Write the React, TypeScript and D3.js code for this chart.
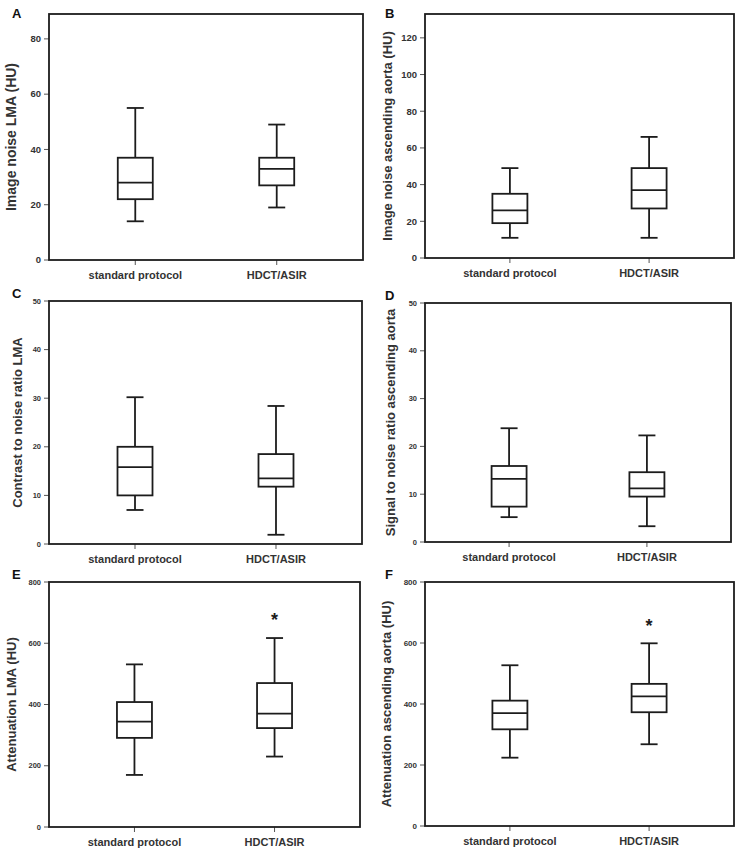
import React from 'react';
import * as d3 from 'd3';

const groups = ['standard protocol', 'HDCT/ASIR'];

// five-number summaries per group: [min, q1, median, q3, max]
const noiseLMA = [[14, 22, 28, 37, 55], [19, 27, 33, 37, 49]];
const noiseAorta = [[11, 19, 26, 35, 49], [11, 27, 37, 49, 66]];
const cnrLMA = [[7, 10, 15.8, 20, 30.2], [1.9, 11.8, 13.5, 18.5, 28.4]];
const snrAorta = [[5.2, 7.4, 13.2, 15.9, 23.8], [3.3, 9.5, 11.2, 14.6, 22.3]];
const attenLMA = [[170, 291, 344, 408, 531], [230, 323, 370, 470, 617]];
const attenAorta = [[224, 317, 370, 411, 527], [268, 373, 425, 466, 599]];

const ticksNoiseLMA = [0, 20, 40, 60, 80];
const ticksNoiseAorta = [0, 20, 40, 60, 80, 100, 120];
const ticksRatio = [0, 10, 20, 30, 40, 50];
const ticksAtten = [0, 200, 400, 600, 800];

// significance marker height (value units) above the HDCT/ASIR box
const starAttenLMA = 686;
const starAttenAorta = 665;

interface PanelSpec {
  letter: string;
  title: string;
  stats: number[][];
  yMax: number;
  ticks: number[];
  star?: number;
}

const panels: PanelSpec[] = [
  { letter: 'A', title: 'Image noise LMA (HU)', stats: noiseLMA, yMax: 89, ticks: ticksNoiseLMA },
  { letter: 'B', title: 'Image noise ascending aorta (HU)', stats: noiseAorta, yMax: 133, ticks: ticksNoiseAorta },
  { letter: 'C', title: 'Contrast to noise ratio LMA', stats: cnrLMA, yMax: 50, ticks: ticksRatio },
  { letter: 'D', title: 'Signal to noise ratio ascending aorta', stats: snrAorta, yMax: 50, ticks: ticksRatio },
  { letter: 'E', title: 'Attenuation LMA (HU)', stats: attenLMA, yMax: 800, ticks: ticksAtten, star: starAttenLMA },
  { letter: 'F', title: 'Attenuation ascending aorta (HU)', stats: attenAorta, yMax: 800, ticks: ticksAtten, star: starAttenAorta },
];

// frame boxes for each panel: [left, top, right, bottom]
const frames = [
  [49, 14, 363, 260],
  [425, 14, 734, 258],
  [49, 301, 362, 544],
  [425, 303, 731, 542],
  [49, 582, 360, 827],
  [425, 582, 734, 826],
];
const titleOffset = [38, 38, 32, 35, 38, 39];
const titleSize = [14, 13, 13, 13, 13, 13];
const tickSize = [9.5, 9.5, 7.5, 7.5, 7.5, 8];

const FONT = '"Liberation Sans", Arial, Helvetica, sans-serif';
const INK = '#1c1c1c';
const TEXT = '#333';

const Panel: React.FC<{ spec: PanelSpec; idx: number }> = ({ spec, idx }) => {
  const [x0, y0, x1, y1] = frames[idx];
  const y = d3.scaleLinear().domain([0, spec.yMax]).range([y1, y0]);
  const x = d3.scalePoint<string>().domain(groups).range([x0, x1]).padding(0.61);
  const boxW = 35;
  const capW = 17;

  return (
    <g>
      <text x={idx % 2 === 0 ? 12 : 385} y={y0 + (idx < 2 ? 4 : -3)} fontSize={13} fontWeight="bold" fill="#111" fontFamily={FONT}>
        {spec.letter}
      </text>
      <text
        transform={`translate(${x0 - titleOffset[idx]},${(y0 + y1) / 2}) rotate(-90)`}
        textAnchor="middle"
        dominantBaseline="central"
        fontSize={titleSize[idx]}
        fontWeight="bold"
        fill={TEXT}
        fontFamily={FONT}
      >
        {spec.title}
      </text>

      {spec.ticks.map((t) => (
        <g key={t}>
          <line x1={x0 - 5} x2={x0} y1={y(t)} y2={y(t)} stroke="#555" strokeWidth={1} />
          <text x={x0 - 8} y={y(t)} dy="0.35em" textAnchor="end" fontSize={tickSize[idx]} fontWeight="bold" fill={TEXT} fontFamily={FONT}>
            {t}
          </text>
        </g>
      ))}

      {groups.map((g) => (
        <g key={g}>
          <line x1={x(g)} x2={x(g)} y1={y1} y2={y1 + 5} stroke="#555" strokeWidth={1} />
          <text x={x(g)} y={y1 + 19} textAnchor="middle" fontSize={11} fontWeight="bold" fill={TEXT} fontFamily={FONT}>
            {g}
          </text>
        </g>
      ))}

      {spec.stats.map((s, i) => {
        const cx = x(groups[i])!;
        const [mn, q1, md, q3, mx] = s;
        return (
          <g key={i} stroke={INK} strokeWidth={1.8} fill="none">
            <line x1={cx} x2={cx} y1={y(mx)} y2={y(q3)} />
            <line x1={cx} x2={cx} y1={y(q1)} y2={y(mn)} />
            <line x1={cx - capW / 2} x2={cx + capW / 2} y1={y(mx)} y2={y(mx)} />
            <line x1={cx - capW / 2} x2={cx + capW / 2} y1={y(mn)} y2={y(mn)} />
            <rect x={cx - boxW / 2} y={y(q3)} width={boxW} height={y(q1) - y(q3)} fill="#fff" />
            <line x1={cx - boxW / 2} x2={cx + boxW / 2} y1={y(md)} y2={y(md)} />
          </g>
        );
      })}

      {spec.star !== undefined && (
        <text x={x(groups[1])} y={y(spec.star) + 9} textAnchor="middle" fontSize={18} fontWeight="bold" fill={INK} fontFamily={FONT}>
          *
        </text>
      )}

      <rect x={x0} y={y0} width={x1 - x0} height={y1 - y0} fill="none" stroke={INK} strokeWidth={1.8} />
    </g>
  );
};

export default function App() {
  return (
    <svg width={737} height={851} style={{ position: 'absolute', left: 0, top: 0, background: '#fff' }}>
      <rect width={737} height={851} fill="#fff" />
      {panels.map((p, i) => (
        <Panel key={p.letter} spec={p} idx={i} />
      ))}
    </svg>
  );
}
